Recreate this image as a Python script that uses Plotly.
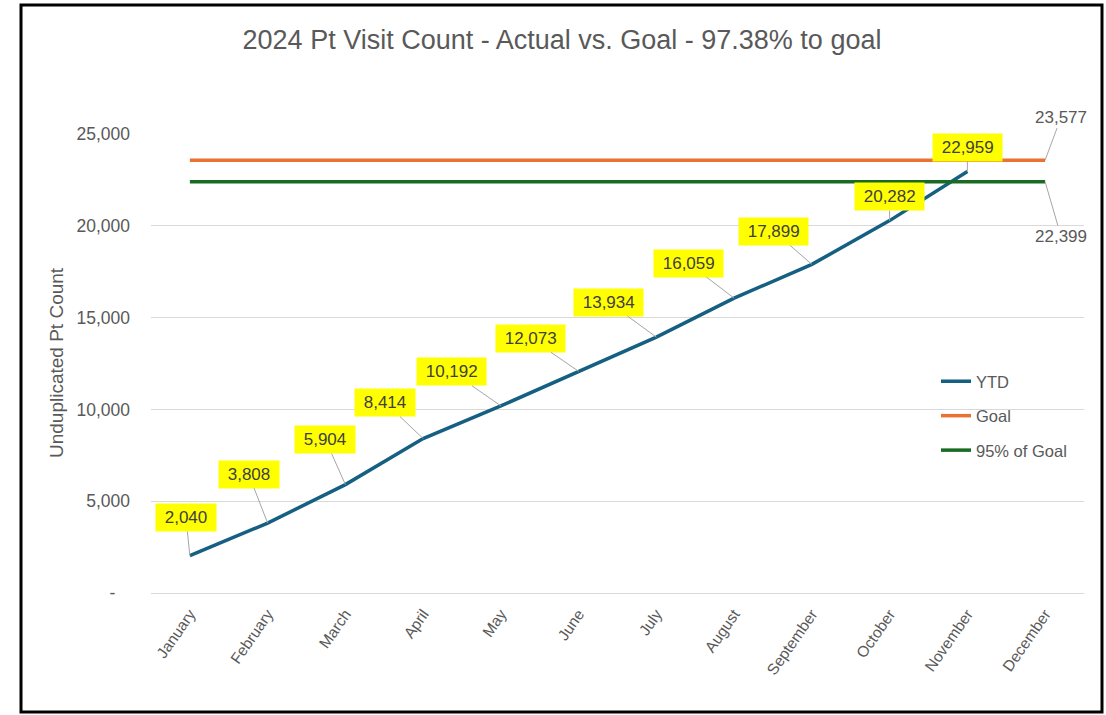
import plotly.graph_objects as go

months = ["January", "February", "March", "April", "May", "June", "July",
          "August", "September", "October", "November", "December"]
ytd = [2040, 3808, 5904, 8414, 10192, 12073, 13934, 16059, 17899, 20282, 22959]
goal = [23577] * 12
goal95 = [22399] * 12
title_text = "2024 Pt Visit Count - Actual vs. Goal - 97.38% to goal"
ytick_vals = [0, 5000, 10000, 15000, 20000, 25000]
ytick_text = ["-\u00a0\u00a0\u00a0", "5,000", "10,000", "15,000", "20,000", "25,000"]

# label offsets (pixels) for data labels
lab_ax = [-4, -19, -20, -38, -49, -48, -48, -46, -38, 0, 0]
lab_ay = [-38, -49, -45, -36, -34, -33, -35, -35, -33, -24, -24]

C_YTD = "#156082"
C_GOAL = "#E97132"
C_95 = "#196B24"
GRAY = "#595959"
FONT = "Liberation Sans, Arial, sans-serif"

W, H = 1106, 715
L, R, T, B = 151, 22, 134, 122
PW, PH = W - L - R, H - T - B

fig = go.Figure()
fig.add_trace(go.Scatter(x=months[:len(ytd)], y=ytd, mode="lines", name="YTD",
                         line=dict(color=C_YTD, width=3.5), legendgroup="a"))
fig.add_trace(go.Scatter(x=months, y=goal, mode="lines", name="Goal",
                         line=dict(color=C_GOAL, width=3.5), legendgroup="b"))
fig.add_trace(go.Scatter(x=months, y=goal95, mode="lines", name="95% of Goal",
                         line=dict(color=C_95, width=3.5), legendgroup="c"))

anns = []
for i, v in enumerate(ytd):
    anns.append(dict(x=months[i], y=v, xref="x", yref="y",
                     text="\u00a0" + f"{v:,}" + "\u00a0",
                     showarrow=True, arrowhead=0, arrowwidth=1, arrowcolor="#A6A6A6",
                     ax=lab_ax[i], ay=lab_ay[i], standoff=0,
                     bgcolor="#FFFF00", borderpad=4,
                     font=dict(family=FONT, size=17, color="#404040")))
anns.append(dict(x=months[-1], y=goal[-1], xref="x", yref="y", text=f"{goal[-1]:,}",
                 showarrow=True, arrowhead=0, arrowwidth=1, arrowcolor="#A6A6A6",
                 ax=16, ay=-43, standoff=0,
                 font=dict(family=FONT, size=17, color=GRAY)))
anns.append(dict(x=months[-1], y=goal95[-1], xref="x", yref="y", text=f"{goal95[-1]:,}",
                 showarrow=True, arrowhead=0, arrowwidth=1, arrowcolor="#A6A6A6",
                 ax=16, ay=55, standoff=0,
                 font=dict(family=FONT, size=17, color=GRAY)))
anns.append(dict(x=(56 - L) / PW, y=(593 - 363) / PH, xref="paper", yref="paper",
                 xanchor="center", yanchor="middle",
                 text="Unduplicated Pt Count", textangle=-90, showarrow=False,
                 font=dict(family=FONT, size=19, color=GRAY)))

fig.update_layout(
    width=W, height=H,
    margin=dict(l=L, r=R, t=T, b=B),
    paper_bgcolor="white", plot_bgcolor="white",
    title=dict(text=title_text, x=(562 / W), xanchor="center", xref="container",
               y=1 - 40 / H, yanchor="middle", yref="container",
               font=dict(family=FONT, size=27, color=GRAY)),
    xaxis=dict(categoryorder="array", categoryarray=months,
               range=[-0.5, 11.5], showgrid=False, showline=False, zeroline=False,
               tickangle=-55, ticklabelstandoff=8,
               tickfont=dict(family=FONT, size=15.5, color=GRAY)),
    yaxis=dict(range=[0, 25000], tickvals=ytick_vals, ticktext=ytick_text,
               showgrid=True, gridcolor="#D9D9D9", gridwidth=1,
               zeroline=True, zerolinecolor="#D9D9D9", zerolinewidth=1,
               showline=False, ticklabelstandoff=20,
               tickfont=dict(family=FONT, size=17.5, color=GRAY)),
    legend=dict(x=(936 - L) / PW, y=(593 - 364) / PH, xanchor="left", yanchor="top",
                bgcolor="rgba(0,0,0,0)", tracegroupgap=10,
                font=dict(family=FONT, size=16.5, color=GRAY)),
    showlegend=True,
    annotations=anns,
    shapes=[dict(type="rect", xref="paper", yref="paper",
                 x0=(21 - L) / PW, x1=(1102 - L) / PW,
                 y0=(H - B - 712) / PH, y1=(H - B - 5) / PH,
                 line=dict(color="black", width=3), fillcolor="rgba(0,0,0,0)",
                 layer="above")],
)
fig.write_html("out.html", config={"displayModeBar": False},
               post_script="document.body.style.margin='0';document.body.style.overflow='hidden';")
